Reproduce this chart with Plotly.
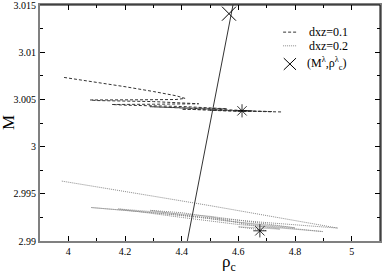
import plotly.graph_objects as go

# dxz=0.1 trajectory (dashed)
dash_x = [3.985, 4.10, 4.20, 4.30, 4.38, 4.412, 4.38, 4.25, 4.077,
          4.10, 4.30, 4.45, 4.46, 4.30, 4.154,
          4.20, 4.40, 4.55, 4.56, 4.40, 4.288,
          4.40, 4.65, 4.62, 4.40, 4.45, 4.72, 4.70, 4.50, 4.55, 4.757]
dash_y = [3.00734, 3.00683, 3.00636, 3.00585, 3.00540, 3.00512, 3.00500, 3.00497, 3.00495,
          3.00489, 3.00478, 3.00462, 3.00455, 3.00450, 3.00447,
          3.00440, 3.00426, 3.00408, 3.00402, 3.00412, 3.00424,
          3.00410, 3.00380, 3.00377, 3.00398, 3.00392, 3.00372, 3.00370, 3.00386, 3.00380, 3.00368]

# dxz=0.2 trajectory (dotted)
dot_x = [3.977, 4.10, 4.30, 4.50, 4.70, 4.85, 4.951,
         4.70, 4.40, 4.20, 4.08,
         4.30, 4.50, 4.70, 4.898,
         4.60, 4.40, 4.176,
         4.50, 4.80,
         4.55, 4.289,
         4.40, 4.51,
         4.62, 4.747,
         4.60, 4.70]
dot_y = [2.99635, 2.99572, 2.99475, 2.99375, 2.99272, 2.99190, 2.99137,
         2.99195, 2.99275, 2.99328, 2.99355,
         2.99300, 2.99238, 2.99160, 2.99100,
         2.99175, 2.99250, 2.99340,
         2.99262, 2.99140,
         2.99215, 2.99325,
         2.99300, 2.99252,
         2.99180, 2.99126,
         2.99150, 2.99110]

# straight line
line_x = [4.42, 4.581]
line_y = [2.990, 3.015]

# (M^lambda, rho^lambda_c) point
lam_x = [4.567]
lam_y = [3.0141]

# converged points
star_x = [4.613, 4.676]
star_y = [3.0038, 2.99108]

xticks = [4, 4.2, 4.4, 4.6, 4.8, 5]
xtick_labels = ["4", "4.2", "4.4", "4.6", "4.8", "5"]
yticks = [2.99, 2.995, 3.0, 3.005, 3.01, 3.015]
ytick_labels = ["2.99", "2.995", "3", "3.005", "3.01", "3.015"]

FONT = "Liberation Serif"

fig = go.Figure()
fig.add_trace(go.Scatter(x=dash_x, y=dash_y, mode="lines",
                         line=dict(color="#333333", width=1, dash="3px,2px")))
fig.add_trace(go.Scatter(x=dot_x, y=dot_y, mode="lines",
                         line=dict(color="#8a8a8a", width=1, dash="1px,1px")))
fig.add_trace(go.Scatter(x=line_x, y=line_y, mode="lines",
                         line=dict(color="#333333", width=1)))
fig.add_trace(go.Scatter(x=lam_x, y=lam_y, mode="markers", cliponaxis=False,
                         marker=dict(symbol="x-thin-open", size=14, color="black",
                                     line=dict(color="black", width=1))))
fig.add_trace(go.Scatter(x=star_x, y=star_y, mode="markers",
                         marker=dict(symbol="asterisk-open", size=11, color="black",
                                     line=dict(color="black", width=0.8))))

axis_common = dict(showgrid=False, zeroline=False, ticks="inside",
                   showline=True, linecolor="#808080", linewidth=2,
                   tickcolor="black", ticklen=5, tickwidth=1,
                   mirror="ticks", automargin=False, ticklabeloverflow="allow",
                   tickfont=dict(family=FONT, size=10, color="black"))

fig.update_xaxes(range=[3.9, 5.1], tickvals=xticks, ticktext=xtick_labels,
                 minor=dict(dtick=0.1, ticks="inside", ticklen=3, tickcolor="black"),
                 **axis_common)
fig.update_yaxes(range=[2.99, 3.01502], tickvals=yticks, ticktext=ytick_labels,
                 minor=dict(dtick=0.0025, tick0=2.99, ticks="inside", ticklen=3, tickcolor="black"),
                 **axis_common)

# manual legend
shapes = [
    dict(type="line", xref="paper", yref="paper", x0=0.715, x1=0.755, y0=0.885, y1=0.885,
         line=dict(color="#333333", width=1, dash="3px,2px")),
    dict(type="line", xref="paper", yref="paper", x0=0.715, x1=0.755, y0=0.827, y1=0.827,
         line=dict(color="#8a8a8a", width=1, dash="1px,1px")),
    dict(type="line", xref="paper", yref="paper", x0=0.717, x1=0.753, y0=0.725, y1=0.775,
         line=dict(color="black", width=1)),
    dict(type="line", xref="paper", yref="paper", x0=0.717, x1=0.753, y0=0.775, y1=0.725,
         line=dict(color="black", width=1)),
    # top and right frame
    dict(type="line", xref="paper", yref="paper", x0=0, x1=1, y0=1, y1=1,
         line=dict(color="black", width=1)),
    dict(type="line", xref="paper", yref="paper", x0=1, x1=1, y0=0, y1=1,
         line=dict(color="black", width=1)),
]
annotations = [
    dict(text="dxz=0.1", xref="paper", yref="paper", x=0.785, y=0.885, xanchor="left",
         yanchor="middle", showarrow=False, font=dict(family=FONT, size=12, color="black")),
    dict(text="dxz=0.2", xref="paper", yref="paper", x=0.785, y=0.827, xanchor="left",
         yanchor="middle", showarrow=False, font=dict(family=FONT, size=12, color="black")),
    dict(text="(M<sup>λ</sup>,ρ<sup>λ</sup><sub>c</sub>)", xref="paper", yref="paper",
         x=0.78, y=0.752, xanchor="left", yanchor="middle", showarrow=False,
         font=dict(family=FONT, size=12, color="black")),
    # axis titles
    dict(text="ρ<sub>c</sub>", xref="paper", yref="paper", x=0.555, y=-0.04,
         xanchor="center", yanchor="top", showarrow=False,
         font=dict(family=FONT, size=17, color="black")),
    dict(text="M", xref="paper", yref="paper", x=-0.094, y=0.5,
         xanchor="center", yanchor="middle", showarrow=False, textangle=-90,
         font=dict(family=FONT, size=17, color="black")),
]

fig.update_layout(width=382, height=273, showlegend=False,
                  margin=dict(l=40, r=2, t=5, b=32),
                  plot_bgcolor="white", paper_bgcolor="white",
                  shapes=shapes, annotations=annotations)

fig.write_html("out.html", config={"displayModeBar": False},
               post_script="document.body.style.margin='0';document.body.style.overflow='hidden';")
